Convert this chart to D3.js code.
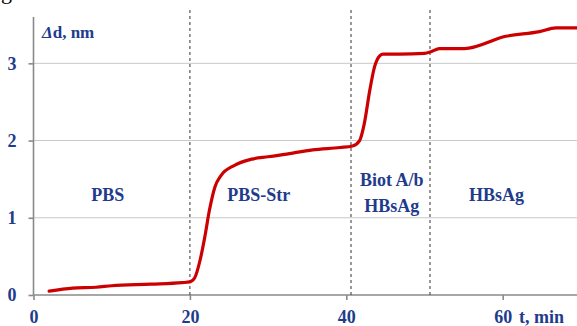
<!DOCTYPE html>
<html>
<head>
<meta charset="utf-8">
<script src="https://cdn.jsdelivr.net/npm/d3@7"></script>
<style>
  body { margin: 0; background: #fff; }
  text { font-family: "Liberation Serif", "Times New Roman", serif; font-weight: bold; }
</style>
</head>
<body>
<div id="chart"></div>
<script>
  const width = 577, height = 326;

  // curve (t in min, delta d in nm)
  const times = [2, 5, 8, 10, 15, 19, 20, 20.6, 21.3, 21.9, 22.5, 23.2, 24, 25.7, 27.9, 30, 32.1, 35.7, 39.2, 40.8, 41.7, 42.3, 43, 43.6, 44.3, 44.7, 46.8, 50, 50.8, 51.9, 55.1, 60.4, 64.7, 66.8, 69.5];
  const values = [0.05, 0.09, 0.10, 0.12, 0.14, 0.16, 0.17, 0.22, 0.45, 0.75, 1.10, 1.40, 1.55, 1.68, 1.76, 1.79, 1.82, 1.88, 1.91, 1.93, 2.0, 2.22, 2.65, 2.95, 3.10, 3.12, 3.12, 3.13, 3.15, 3.19, 3.19, 3.35, 3.41, 3.46, 3.46];
  const xTicks = [0, 20, 40, 60];
  const yTicks = [0, 1, 2, 3];
  const stages = [20, 40.6, 50.7];
  const stageLabels = [
    { t: 9.5, lines: ["PBS"] },
    { t: 28.8, lines: ["PBS-Str"] },
    { t: 45.8, lines: ["Biot A/b", "HBsAg"] },
    { t: 59.2, lines: ["HBsAg"] }
  ];

  const blue = "#1f3c8c";
  const svg = d3.select('#chart').append('svg')
    .attr('width', width).attr('height', height);

  const x = d3.scaleLinear().domain([0, 69.5]).range([33.5, 577]);
  const y = d3.scaleLinear().domain([0, 3.6]).range([295, 17]);

  // caption fragment at top
  svg.append('text').attr('x', 1).attr('y', -1).attr('font-size', 22)
    .style('font-weight', 'normal').text('g');

  // grid
  svg.append('g').selectAll('line').data(yTicks.slice(1)).join('line')
    .attr('x1', x(0)).attr('x2', width)
    .attr('y1', d => y(d)).attr('y2', d => y(d))
    .attr('stroke', '#c8c8c8').attr('stroke-width', 1);

  // axes
  const xAxis = svg.append('g').attr('transform', `translate(0,${y(0)})`)
    .call(d3.axisBottom(x).tickValues(xTicks).tickSize(5).tickPadding(10).tickFormat(d3.format('d')));
  const yAxis = svg.append('g').attr('transform', `translate(${x(0)},0)`)
    .call(d3.axisLeft(y).tickValues(yTicks).tickSize(5).tickPadding(12).tickFormat(d3.format('d')));
  [xAxis, yAxis].forEach(a => {
    a.select('.domain').attr('stroke', '#8a8a8a').attr('stroke-width', 1.6);
    a.selectAll('.tick line').attr('stroke', '#8a8a8a').attr('stroke-width', 1.6);
    a.selectAll('.tick text').attr('fill', blue).attr('font-size', 18)
      .attr('font-family', '"Liberation Serif", serif').attr('font-weight', 'bold');
  });
  xAxis.select('.domain').attr('d', `M${x(0)},0H${width}`);
  yAxis.select('.domain').attr('d', `M0,${y(3.6)}V${y(0)}`);

  // stage separators
  svg.append('g').selectAll('line').data(stages).join('line')
    .attr('x1', d => x(d)).attr('x2', d => x(d))
    .attr('y1', 10).attr('y2', y(0))
    .attr('stroke', '#555').attr('stroke-width', 1.2)
    .attr('stroke-dasharray', '3,3');

  // curve
  const line = d3.line().x((d, i) => x(times[i])).y(d => y(d)).curve(d3.curveMonotoneX);
  svg.append('path').datum(values)
    .attr('d', line).attr('fill', 'none')
    .attr('stroke', '#cc0000').attr('stroke-width', 3.2).attr('stroke-linecap', 'round');

  // stage labels
  stageLabels.forEach(s => {
    const n = s.lines.length;
    s.lines.forEach((l, i) => {
      svg.append('text')
        .attr('x', x(s.t)).attr('y', n === 1 ? 201 : 186 + i * 26)
        .attr('text-anchor', 'middle').attr('fill', blue).attr('font-size', 18)
        .text(l);
    });
  });

  // axis titles
  const yt = svg.append('text').attr('x', 42).attr('y', 38).attr('fill', blue).attr('font-size', 17);
  yt.append('tspan').style('font-style', 'italic').text('Δ');
  yt.append('tspan').text('d, nm');
  svg.append('text').attr('x', 519).attr('y', 323).attr('fill', blue).attr('font-size', 18).text('t, min');
</script>
</body>
</html>
